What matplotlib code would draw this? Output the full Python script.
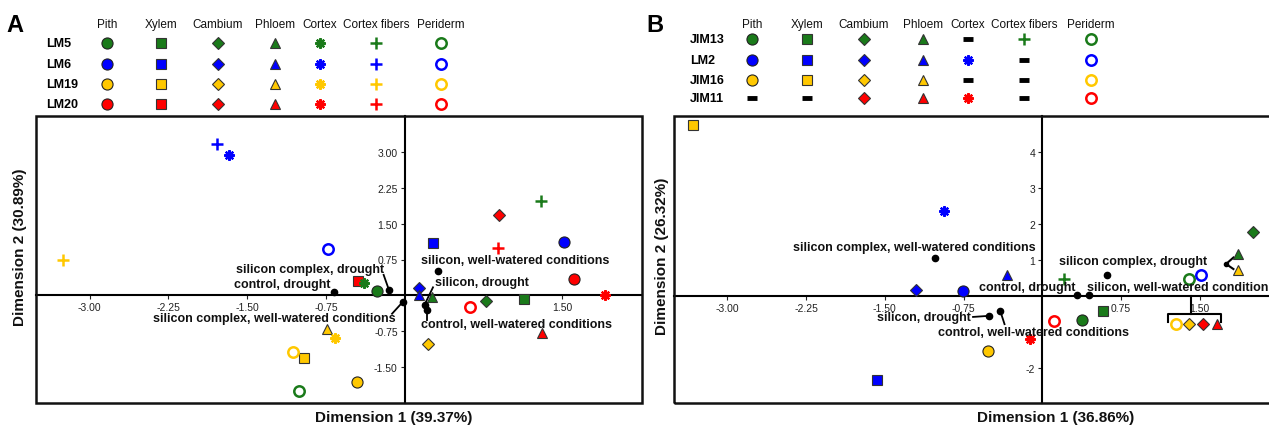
import matplotlib
matplotlib.use("Agg")
import matplotlib.pyplot as plt
from matplotlib.patches import Rectangle

plt.rcParams['font.family'] = ['Liberation Sans', 'DejaVu Sans']

# ---- data ----
tissues = ['Pith', 'Xylem', 'Cambium', 'Phloem', 'Cortex', 'Cortex fibers', 'Periderm']
colors = ['#1a7a1a', '#0000ff', '#ffc800', '#ff0000']

# panel A: antibodies LM5, LM6, LM19, LM20 (x, y) per tissue
a_antibodies = ['LM5', 'LM6', 'LM19', 'LM20']
a_pith = [(-0.26, 0.10), (1.52, 1.11), (-0.45, -1.80), (1.61, 0.35)]
a_xylem = [(1.14, -0.07), (0.27, 1.09), (-0.96, -1.30), (-0.44, 0.31)]
a_cambium = [(0.77, -0.11), (0.14, 0.15), (0.22, -1.01), (0.90, 1.67)]
a_phloem = [(0.26, -0.03), (0.14, 0.01), (-0.74, -0.69), (1.31, -0.78)]
a_cortex = [(-0.39, 0.26), (-1.67, 2.92), (-0.66, -0.89), (1.91, 0.0)]
a_fibers = [(1.30, 1.97), (-1.79, 3.16), (-3.25, 0.74), (0.89, 0.99)]
a_periderm = [(-1.01, -1.98), (-0.73, 0.97), (-1.06, -1.17), (0.62, -0.24)]

# panel B: antibodies JIM13, LM2, JIM16, JIM11 (None = not detected)
b_antibodies = ['JIM13', 'LM2', 'JIM16', 'JIM11']
b_pith = [(0.38, -0.67), (-0.76, 0.13), (-0.52, -1.53), None]
b_xylem = [(0.58, -0.42), (-1.57, -2.34), (-3.33, 4.74), None]
b_cambium = [(2.01, 1.78), (-1.20, 0.17), (1.40, -0.79), (1.53, -0.79)]
b_phloem = [(1.86, 1.16), (-0.34, 0.58), (1.86, 0.72), (1.66, -0.79)]
b_cortex = [None, (-0.94, 2.36), None, (-0.12, -1.20)]
b_fibers = [(0.21, 0.46), None, None, None]
b_periderm = [(1.40, 0.46), (1.51, 0.58), (1.27, -0.79), (0.11, -0.71)]

# treatments (supplementary points)
a_cond = ['silicon complex, drought', 'control, drought',
          'silicon complex, well-watered conditions', 'silicon, well-watered conditions',
          'silicon, drought', 'control, well-watered conditions']
a_cond_x = [-0.15, -0.67, -0.02, 0.32, 0.19, 0.21]
a_cond_y = [0.12, 0.07, -0.14, 0.52, -0.19, -0.31]

b_cond = ['silicon complex, well-watered conditions', 'silicon, drought',
          'control, well-watered conditions', 'silicon complex, drought',
          'control, drought', 'silicon, well-watered conditions']
b_cond_x = [-1.02, -0.51, -0.40, 0.62, 0.33, 0.44]
b_cond_y = [1.04, -0.56, -0.43, 0.58, 0.02, 0.02]

a_var = ['Dimension 1 (39.37%)', 'Dimension 2 (30.89%)']
b_var = ['Dimension 1 (36.86%)', 'Dimension 2 (26.32%)']

# ---- styles ----
styles = [
    dict(marker='o', ms=8, mec='#222222', mew=0.8),
    dict(marker='s', ms=7.5, mec='#333333', mew=0.8),
    dict(marker='D', ms=6.5, mec='#333333', mew=0.8),
    dict(marker='^', ms=7.5, mec='#333333', mew=0.8),
    dict(marker=(8, 2, 0), ms=7.5, mew=1.6),
    dict(marker='+', ms=8.5, mew=1.8),
    dict(marker='o', ms=7.5, mfc='none', mew=1.8),
]


def mark(ax, x, y, t, c):
    st = dict(styles[t])
    if t in (4, 5, 6):
        st['mec'] = c
        if t != 6:
            st['mfc'] = c
    else:
        st['mfc'] = c
    ax.plot(x, y, linestyle='none', zorder=4, **st)


def setup(ax, xlim, ylim, xt, xtl, yt, ytl):
    ax.set_xlim(xlim)
    ax.set_ylim(ylim)
    for s in ['top', 'right']:
        ax.spines[s].set_visible(False)
    ax.spines['left'].set_position(('data', 0))
    ax.spines['bottom'].set_position(('data', 0))
    ax.spines['left'].set_linewidth(1.5)
    ax.spines['bottom'].set_linewidth(1.5)
    ax.set_xticks(xt)
    ax.set_xticklabels(xtl)
    ax.set_yticks(yt)
    ax.set_yticklabels(ytl)
    ax.tick_params(direction='out', length=3, width=0.8, labelsize=7.5, pad=2,
                   colors='#222222')
    ax.add_patch(Rectangle((0, 0), 1, 1, transform=ax.transAxes, fill=False,
                           lw=1.8, ec='#111111', clip_on=False, zorder=6))


def panel(ax, groups):
    for t, pts in enumerate(groups):
        for i, p in enumerate(pts):
            if p is not None:
                mark(ax, p[0], p[1], t, colors[i])


def cond_dots(ax, xs, ys):
    ax.plot(xs, ys, 'o', color='k', ms=4.5, zorder=5)


fig = plt.figure(figsize=(12.69, 4.27), dpi=100)
bot, hgt = 23 / 427, 287 / 427

# ---- panel A ----
axA = fig.add_axes([36 / 1269, bot, 606 / 1269, hgt])
setup(axA, (-3.51, 2.26), (-2.24, 3.74),
      [-3.0, -2.25, -1.5, -0.75, 1.5], ['-3.00', '-2.25', '-1.50', '-0.75', '1.50'],
      [3.0, 2.25, 1.5, 0.75, -0.75, -1.5], ['3.00', '2.25', '1.50', '0.75', '-0.75', '-1.50'])
panel(axA, [a_pith, a_xylem, a_cambium, a_phloem, a_cortex, a_fibers, a_periderm])
cond_dots(axA, a_cond_x, a_cond_y)
tk = dict(fontsize=9, fontweight='bold', color='#111111', zorder=7)
axA.text(-0.20, 0.55, a_cond[0], ha='right', va='center', **tk)
axA.plot([a_cond_x[0], -0.20], [a_cond_y[0], 0.43], 'k-', lw=1.3)
axA.text(-0.71, 0.24, a_cond[1], ha='right', va='center', **tk)
axA.text(-0.09, -0.47, a_cond[2], ha='right', va='center', **tk)
axA.plot([a_cond_x[2], -0.12], [a_cond_y[2], -0.38], 'k-', lw=1.3)
axA.text(0.16, 0.73, a_cond[3], ha='left', va='center', **tk)
axA.text(0.29, 0.28, a_cond[4], ha='left', va='center', **tk)
axA.plot([a_cond_x[4], 0.27], [a_cond_y[4], 0.17], 'k-', lw=1.3)
axA.text(0.16, -0.59, a_cond[5], ha='left', va='center', **tk)
axA.plot([a_cond_x[5], 0.21], [a_cond_y[5], -0.52], 'k-', lw=1.3)

# ---- panel B ----
axB = fig.add_axes([674 / 1269, bot, 601 / 1269, hgt])
setup(axB, (-3.508, 2.216), (-2.98, 4.99),
      [-3.0, -2.25, -1.5, -0.75, 0.75, 1.5], ['-3.00', '-2.25', '-1.50', '-0.75', '0.75', '1.50'],
      [4, 3, 2, 1, -2], ['4', '3', '2', '1', '-2'])
panel(axB, [b_pith, b_xylem, b_cambium, b_phloem, b_cortex, b_fibers, b_periderm])
cond_dots(axB, b_cond_x, b_cond_y)
axB.text(-1.22, 1.36, b_cond[0], ha='center', va='center', **tk)
axB.text(-0.68, -0.59, b_cond[1], ha='right', va='center', **tk)
axB.plot([-0.66, b_cond_x[1]], [-0.59, b_cond_y[1]], 'k-', lw=1.3)
axB.text(-0.99, -1.02, b_cond[2], ha='left', va='center', **tk)
axB.plot([b_cond_x[2], -0.36], [b_cond_y[2], -0.79], 'k-', lw=1.3)
axB.text(0.155, 0.97, b_cond[3], ha='left', va='center', **tk)
axB.text(0.32, 0.23, b_cond[4], ha='right', va='center', **tk)
axB.text(0.425, 0.23, b_cond[5], ha='left', va='center', **tk)
# brackets
axB.plot([1.82, 1.75, 1.82], [1.06, 0.88, 0.74], 'k-', lw=1.5, zorder=3)
axB.plot([1.75], [0.88], 'ko', ms=3)
axB.plot([1.20, 1.20, 1.70, 1.70], [-0.72, -0.51, -0.51, -0.72], 'k-', lw=1.5, zorder=3)
axB.plot([1.42, 1.42], [-0.51, 0.0], 'k-', lw=1.5, zorder=3)

# ---- axis titles ----
lab = dict(fontsize=11, fontweight='bold', color='#111111')
fig.text(394 / 1269, 1 - 418 / 427, a_var[0], ha='center', va='center', **lab)
fig.text(20 / 1269, 1 - 247 / 427, a_var[1], ha='center', va='center', rotation=90, **lab)
fig.text(1056 / 1269, 1 - 418 / 427, b_var[0], ha='center', va='center', **lab)
fig.text(662 / 1269, 1 - 256 / 427, b_var[1], ha='center', va='center', rotation=90, **lab)

# ---- legends (overlay in pixel units) ----
leg = fig.add_axes([0, 0, 1, 1])
leg.set_xlim(0, 1269)
leg.set_ylim(427, 0)
leg.set_axis_off()

leg.text(15, 25, 'A', fontsize=17, fontweight='bold', ha='center', va='center')
leg.text(655, 25, 'B', fontsize=17, fontweight='bold', ha='center', va='center')


def legend_block(cols_x, rows_y, label_x, names, groups):
    for cx, t in zip(cols_x, tissues):
        leg.text(cx, 25, t, fontsize=8.5, ha='center', va='center', color='#111111')
    for i, (ry, nm) in enumerate(zip(rows_y, names)):
        leg.text(label_x, ry, nm, fontsize=9, fontweight='bold', ha='left', va='center')
        for t, cx in enumerate(cols_x):
            if groups[t][i] is None:
                leg.plot(cx, ry, marker='_', ms=7, mew=3.5, color='k')
            else:
                mark(leg, cx, ry, t, colors[i])


legend_block([107, 161, 218, 275, 320, 376, 441], [44, 65, 85, 105], 46, a_antibodies,
             [a_pith, a_xylem, a_cambium, a_phloem, a_cortex, a_fibers, a_periderm])
legend_block([752, 807, 864, 923, 968, 1024, 1091], [40, 61, 81, 99], 690, b_antibodies,
             [b_pith, b_xylem, b_cambium, b_phloem, b_cortex, b_fibers, b_periderm])

fig.savefig('out.png', dpi=100)
